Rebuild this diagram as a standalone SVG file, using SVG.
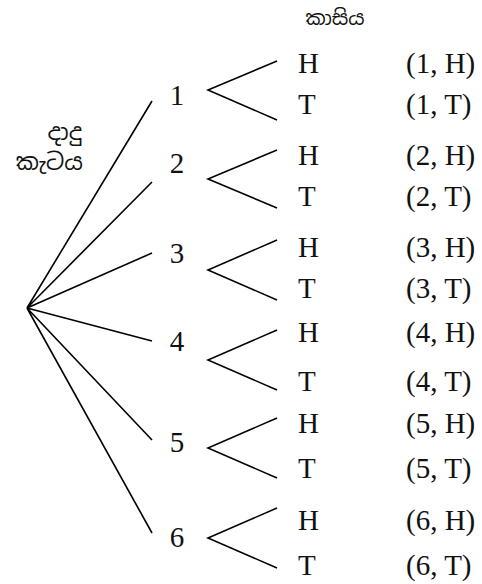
<svg xmlns="http://www.w3.org/2000/svg" width="482" height="584" viewBox="0 0 482 584">
<style>
.t{font-family:"Liberation Serif","Times New Roman",serif;font-size:29px;fill:#111}
.s{font-family:"Noto Sans Sinhala","Iskoola Pota","Noto Sans","DejaVu Sans",sans-serif;font-size:20px;fill:#111}
.d{font-size:23px}
.l{stroke:#000;stroke-width:1.6;fill:none}
</style>
<rect width="482" height="584" fill="#fff"/>
<g id="coin-label"><text class="s" x="335" y="25" text-anchor="middle">කාසිය</text></g>
<g id="die-label"><text class="s d" x="82" y="140" text-anchor="end">දාදු</text><text class="s d" x="83" y="170" text-anchor="end">කැටය</text></g>
<g id="connectors" class="l">
<path d="M27 308L152 101M27 308L152 182M27 308L152 253M27 308L152 341M27 308L152 440M27 308L152 533"/>
<path d="M277 61L208 90L277 120"/>
<path d="M277 150L208 179L277 208"/>
<path d="M277 240L208 270L277 300"/>
<path d="M277 330L208 360L277 390"/>
<path d="M277 418L208 448L277 478"/>
<path d="M277 508L208 538L277 568"/>
</g>
<g id="n1"><text class="t" x="177" y="105" text-anchor="middle">1</text></g>
<g id="n2"><text class="t" x="177" y="173" text-anchor="middle">2</text></g>
<g id="n3"><text class="t" x="177" y="263" text-anchor="middle">3</text></g>
<g id="n4"><text class="t" x="177" y="351" text-anchor="middle">4</text></g>
<g id="n5"><text class="t" x="177" y="452" text-anchor="middle">5</text></g>
<g id="n6"><text class="t" x="177" y="547" text-anchor="middle">6</text></g>
<g id="h1"><text class="t" x="298" y="73">H</text><text class="t" x="406" y="73">(1, H)</text></g>
<g id="t1"><text class="t" x="298" y="114">T</text><text class="t" x="406" y="114">(1, T)</text></g>
<g id="h2"><text class="t" x="298" y="165">H</text><text class="t" x="406" y="165">(2, H)</text></g>
<g id="t2"><text class="t" x="298" y="206">T</text><text class="t" x="406" y="206">(2, T)</text></g>
<g id="h3"><text class="t" x="298" y="257">H</text><text class="t" x="406" y="257">(3, H)</text></g>
<g id="t3"><text class="t" x="298" y="298">T</text><text class="t" x="406" y="298">(3, T)</text></g>
<g id="h4"><text class="t" x="298" y="342">H</text><text class="t" x="406" y="342">(4, H)</text></g>
<g id="t4"><text class="t" x="298" y="391">T</text><text class="t" x="406" y="391">(4, T)</text></g>
<g id="h5"><text class="t" x="298" y="433">H</text><text class="t" x="406" y="433">(5, H)</text></g>
<g id="t5"><text class="t" x="298" y="478">T</text><text class="t" x="406" y="478">(5, T)</text></g>
<g id="h6"><text class="t" x="298" y="530">H</text><text class="t" x="406" y="530">(6, H)</text></g>
<g id="t6"><text class="t" x="298" y="575">T</text><text class="t" x="406" y="575">(6, T)</text></g>
</svg>
